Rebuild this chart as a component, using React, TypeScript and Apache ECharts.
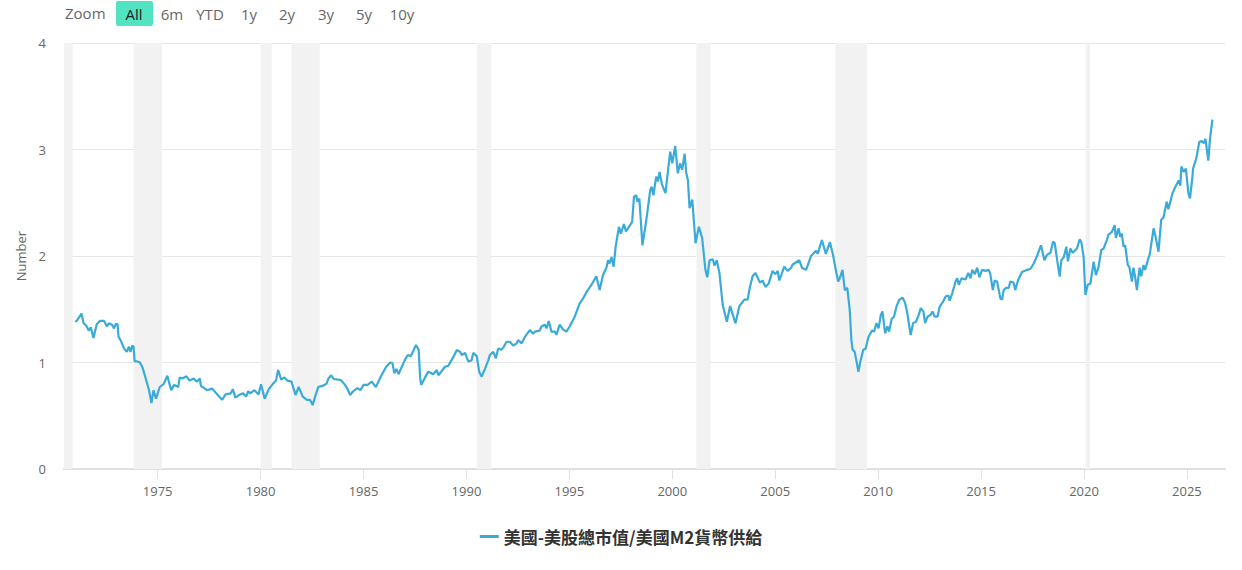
import React, { useEffect, useRef } from "react";
import * as echarts from "echarts";

// Decimal year, ratio (US stock market cap / US M2)
const years: number[] = [
  1971.0, 1971.1, 1971.3, 1971.4, 1971.55, 1971.65, 1971.75, 1971.88, 1972.04, 1972.19,
  1972.4, 1972.53, 1972.65, 1972.8, 1972.88, 1972.96, 1973.05, 1973.1, 1973.2, 1973.37,
  1973.5, 1973.6, 1973.68, 1973.77, 1973.83, 1973.88, 1974.0, 1974.14, 1974.27, 1974.42,
  1974.58, 1974.7, 1974.8, 1974.92, 1975.1, 1975.3, 1975.47, 1975.6, 1975.66, 1975.8,
  1976.0, 1976.07, 1976.2, 1976.4, 1976.55, 1976.75, 1976.9, 1977.05, 1977.1, 1977.4,
  1977.65, 1977.85, 1978.13, 1978.3, 1978.55, 1978.65, 1978.78, 1979.0, 1979.15, 1979.3,
  1979.4, 1979.5, 1979.7, 1979.9, 1980.02, 1980.2, 1980.4, 1980.6, 1980.75, 1980.85,
  1981.0, 1981.15, 1981.3, 1981.5, 1981.7, 1981.85, 1982.05, 1982.25, 1982.4, 1982.53,
  1982.65, 1982.8, 1983.0, 1983.2, 1983.3, 1983.43, 1983.55, 1983.75, 1983.9, 1984.1,
  1984.2, 1984.35, 1984.5, 1984.7, 1984.85, 1985.0, 1985.2, 1985.4, 1985.6, 1985.85,
  1986.1, 1986.3, 1986.4, 1986.5, 1986.6, 1986.7, 1987.0, 1987.15, 1987.3, 1987.55,
  1987.68, 1987.75, 1987.8, 1987.99, 1988.15, 1988.39, 1988.56, 1988.64, 1988.8, 1988.96,
  1989.12, 1989.36, 1989.53, 1989.69, 1989.77, 1989.93, 1990.09, 1990.25, 1990.33, 1990.5,
  1990.62, 1990.74, 1990.9, 1991.06, 1991.14, 1991.3, 1991.43, 1991.54, 1991.71, 1991.82,
  1991.95, 1992.11, 1992.27, 1992.44, 1992.51, 1992.68, 1992.84, 1993.08, 1993.24, 1993.32,
  1993.56, 1993.65, 1993.81, 1993.89, 1994.0, 1994.13, 1994.29, 1994.37, 1994.53, 1994.69,
  1994.86, 1995.02, 1995.26, 1995.5, 1995.66, 1995.83, 1996.07, 1996.31, 1996.47, 1996.63,
  1996.8, 1996.88, 1996.95, 1997.05, 1997.15, 1997.25, 1997.41, 1997.5, 1997.65, 1997.75,
  1997.98, 1998.05, 1998.14, 1998.25, 1998.3, 1998.4, 1998.55, 1998.74, 1998.93, 1999.0,
  1999.08, 1999.22, 1999.3, 1999.38, 1999.5, 1999.67, 1999.78, 1999.9, 2000.0, 2000.14,
  2000.27, 2000.38, 2000.48, 2000.6, 2000.68, 2000.76, 2000.84, 2000.97, 2001.13, 2001.29,
  2001.45, 2001.61, 2001.7, 2001.81, 2001.97, 2002.05, 2002.16, 2002.29, 2002.45, 2002.65,
  2002.81, 2003.07, 2003.26, 2003.5, 2003.66, 2003.75, 2003.9, 2004.04, 2004.26, 2004.39,
  2004.52, 2004.68, 2004.87, 2005.0, 2005.12, 2005.2, 2005.44, 2005.6, 2005.77, 2005.85,
  2006.17, 2006.3, 2006.5, 2006.74, 2006.98, 2007.06, 2007.27, 2007.46, 2007.66, 2007.82,
  2007.94, 2008.06, 2008.15, 2008.27, 2008.38, 2008.5, 2008.62, 2008.7, 2008.76, 2008.86,
  2008.94, 2009.04, 2009.15, 2009.28, 2009.39, 2009.53, 2009.7, 2009.8, 2009.92, 2010.02,
  2010.13, 2010.21, 2010.34, 2010.45, 2010.53, 2010.66, 2010.77, 2010.89, 2011.02, 2011.18,
  2011.31, 2011.42, 2011.58, 2011.7, 2011.83, 2011.96, 2012.07, 2012.2, 2012.28, 2012.4,
  2012.56, 2012.64, 2012.75, 2012.88, 2012.99, 2013.15, 2013.28, 2013.41, 2013.47, 2013.6,
  2013.76, 2013.84, 2013.92, 2014.05, 2014.25, 2014.38, 2014.49, 2014.57, 2014.7, 2014.81,
  2014.92, 2015.05, 2015.21, 2015.37, 2015.45, 2015.57, 2015.66, 2015.78, 2015.94, 2016.02,
  2016.1, 2016.21, 2016.34, 2016.42, 2016.58, 2016.66, 2016.8, 2016.99, 2017.24, 2017.4,
  2017.56, 2017.72, 2017.91, 2018.08, 2018.2, 2018.37, 2018.5, 2018.58, 2018.69, 2018.82,
  2018.9, 2019.02, 2019.14, 2019.22, 2019.34, 2019.45, 2019.55, 2019.66, 2019.79, 2019.87,
  2019.98, 2020.07, 2020.18, 2020.31, 2020.47, 2020.58, 2020.71, 2020.84, 2020.95, 2021.11,
  2021.19, 2021.36, 2021.49, 2021.55, 2021.68, 2021.76, 2021.84, 2021.92, 2022.0, 2022.13,
  2022.2, 2022.33, 2022.4, 2022.48, 2022.57, 2022.7, 2022.78, 2022.89, 2022.97, 2023.1,
  2023.2, 2023.38, 2023.49, 2023.62, 2023.75, 2023.86, 2024.02, 2024.1, 2024.3, 2024.44,
  2024.6, 2024.68, 2024.73, 2024.84, 2024.95, 2025.07, 2025.15, 2025.26, 2025.3, 2025.46,
  2025.6, 2025.72, 2025.83, 2025.9, 2026.04, 2026.12, 2026.24,
];

const ratio: number[] = [
  1.38, 1.4, 1.46, 1.37, 1.34, 1.3, 1.33, 1.23, 1.36, 1.39,
  1.39, 1.34, 1.37, 1.35, 1.32, 1.36, 1.36, 1.24, 1.21, 1.13,
  1.1, 1.15, 1.1, 1.16, 1.15, 1.01, 1.01, 1.0, 0.95, 0.85,
  0.74, 0.62, 0.74, 0.66, 0.77, 0.8, 0.875, 0.78, 0.74, 0.79,
  0.77, 0.86, 0.85, 0.87, 0.83, 0.85, 0.82, 0.85, 0.78, 0.74,
  0.755, 0.71, 0.65, 0.7, 0.71, 0.75, 0.67, 0.7, 0.71, 0.68,
  0.73, 0.71, 0.74, 0.7, 0.795, 0.66, 0.75, 0.8, 0.83, 0.93,
  0.84, 0.86, 0.83, 0.82, 0.695, 0.77, 0.68, 0.65, 0.65, 0.6,
  0.68, 0.77, 0.78, 0.8, 0.85, 0.88, 0.845, 0.84, 0.835, 0.79,
  0.76, 0.695, 0.73, 0.76, 0.74, 0.79, 0.79, 0.82, 0.77, 0.87,
  0.96, 1.0, 0.995, 0.9, 0.94, 0.89, 1.02, 1.07, 1.06, 1.165,
  1.12, 0.86, 0.79, 0.86, 0.914, 0.89, 0.93, 0.88, 0.92, 0.96,
  0.97, 1.05, 1.117, 1.1, 1.07, 1.09, 1.01, 1.02, 1.09, 1.06,
  0.914, 0.867, 0.94, 1.02, 1.07, 1.1, 1.04, 1.13, 1.12, 1.15,
  1.195, 1.195, 1.16, 1.18, 1.21, 1.18, 1.24, 1.305, 1.27, 1.29,
  1.3, 1.34, 1.355, 1.32, 1.39, 1.29, 1.29, 1.26, 1.355, 1.31,
  1.29, 1.34, 1.43, 1.556, 1.6, 1.66, 1.728, 1.81, 1.68, 1.82,
  1.89, 1.96, 1.93, 1.99, 1.9, 2.09, 2.275, 2.21, 2.3, 2.23,
  2.3, 2.32, 2.557, 2.57, 2.51, 2.54, 2.1, 2.34, 2.62, 2.65,
  2.57, 2.745, 2.7, 2.79, 2.67, 2.59, 2.78, 2.98, 2.87, 3.033,
  2.776, 2.87, 2.81, 2.96, 2.78, 2.71, 2.45, 2.53, 2.12, 2.275,
  2.17, 1.87, 1.8, 1.96, 1.97, 1.91, 1.96, 1.84, 1.54, 1.383,
  1.53, 1.368, 1.53, 1.59, 1.59, 1.69, 1.81, 1.84, 1.75, 1.77,
  1.71, 1.74, 1.86, 1.83, 1.86, 1.77, 1.9, 1.86, 1.89, 1.92,
  1.96, 1.89, 1.87, 2.0, 2.05, 2.02, 2.15, 2.02, 2.13, 2.0,
  1.87, 1.76, 1.8, 1.87, 1.68, 1.7, 1.493, 1.21, 1.12, 1.1,
  1.02, 0.914, 1.02, 1.12, 1.13, 1.24, 1.3, 1.29, 1.37, 1.32,
  1.446, 1.48, 1.274, 1.34, 1.29, 1.41, 1.43, 1.524, 1.587, 1.61,
  1.56, 1.46, 1.258, 1.37, 1.38, 1.44, 1.51, 1.48, 1.37, 1.43,
  1.45, 1.48, 1.43, 1.43, 1.524, 1.57, 1.62, 1.63, 1.58, 1.65,
  1.76, 1.79, 1.73, 1.79, 1.78, 1.84, 1.79, 1.87, 1.83, 1.89,
  1.8, 1.87, 1.86, 1.87, 1.83, 1.68, 1.77, 1.76, 1.6, 1.59,
  1.68, 1.7, 1.7, 1.76, 1.75, 1.68, 1.775, 1.85, 1.87, 1.88,
  1.93, 2.0, 2.1, 1.96, 2.01, 2.03, 2.135, 2.12, 1.97, 1.806,
  1.96, 1.99, 2.087, 1.95, 2.07, 2.03, 2.05, 2.07, 2.157, 2.13,
  1.993, 1.634, 1.73, 1.74, 1.947, 1.82, 1.9, 2.056, 2.07, 2.15,
  2.2, 2.228, 2.29, 2.17, 2.26, 2.18, 2.21, 2.087, 2.1, 1.915,
  1.9, 1.76, 1.89, 1.81, 1.68, 1.89, 1.81, 1.915, 1.87, 1.96,
  2.02, 2.26, 2.17, 2.04, 2.34, 2.36, 2.51, 2.44, 2.59, 2.65,
  2.71, 2.66, 2.84, 2.79, 2.82, 2.59, 2.54, 2.73, 2.82, 2.92,
  3.07, 3.08, 3.06, 3.1, 2.895, 3.1, 3.28,
];

// US recessions (start, end) in decimal years
const recessionStarts: number[] = [1970.45, 1973.83, 1980.0, 1981.5, 1990.5, 2001.17, 2007.92, 2020.08];
const recessionEnds: number[] = [1970.87, 1975.21, 1980.54, 1982.87, 1991.21, 2001.87, 2009.46, 2020.29];

const xTickYears: number[] = [1975, 1980, 1985, 1990, 1995, 2000, 2005, 2010, 2015, 2020, 2025];
const rangeButtons: string[] = ["All", "6m", "YTD", "1y", "2y", "3y", "5y", "10y"];
const seriesName = "美國-美股總市值/美國M2貨幣供給";

const FONT = "'Open Sans', 'Noto Sans CJK TC', sans-serif";

export default function App() {
  const ref = useRef<HTMLDivElement>(null);

  useEffect(() => {
    if (!ref.current) return;
    const chart = echarts.init(ref.current, undefined, { renderer: "svg" });

    const data = years.map((y, i) => [y, ratio[i]]);
    const bands = recessionStarts.map((s, i) => [{ xAxis: s }, { xAxis: recessionEnds[i] }]);

    const btnCenters = [134, 172, 210, 249, 287, 326, 364, 402];
    const graphics: any[] = [
      {
        type: "text",
        left: 65,
        top: 5,
        style: { text: "Zoom", fill: "#666666", font: `15px ${FONT}` },
      },
      {
        type: "rect",
        shape: { x: 116, y: 1, width: 37, height: 25, r: 2 },
        style: { fill: "#52e3c2" },
      },
    ];
    rangeButtons.forEach((b, i) => {
      graphics.push({
        type: "text",
        x: btnCenters[i],
        y: 14,
        style: {
          text: b,
          fill: i === 0 ? "#222222" : "#666666",
          font: `15px ${FONT}`,
          align: "center",
          verticalAlign: "middle",
        },
      });
    });

    chart.setOption({
      animation: false,
      grid: { left: 64, right: 17, top: 43, bottom: 101, containLabel: false },
      graphic: graphics,
      legend: {
        bottom: 20,
        left: "center",
        icon: "rect",
        itemWidth: 19,
        itemHeight: 3,
        itemGap: 10,
        textStyle: {
          fontSize: 17,
          fontWeight: "bold",
          color: "#333333",
          fontFamily: "'Noto Sans CJK TC', 'Open Sans', sans-serif",
        },
        data: [seriesName],
      },
      xAxis: {
        type: "value",
        min: 1970.45,
        max: 2026.85,
        splitLine: { show: false },
        axisLine: { show: true, lineStyle: { color: "#e0e0e0", width: 2 } },
        axisTick: { show: true, length: 10, lineStyle: { color: "#e0e0e0", width: 1 }, customValues: xTickYears },
        axisLabel: {
          color: "#666666",
          fontSize: 13,
          fontFamily: FONT,
          margin: 15,
          customValues: xTickYears,
          formatter: (v: number) => String(Math.round(v)),
        },
      },
      yAxis: {
        type: "value",
        min: 0,
        max: 4,
        interval: 1,
        name: "Number",
        nameLocation: "middle",
        nameRotate: 90,
        nameGap: 36,
        nameTextStyle: { color: "#666666", fontSize: 13, fontFamily: FONT },
        axisLine: { show: false },
        axisTick: { show: false },
        axisLabel: { color: "#666666", fontSize: 13, fontFamily: FONT, margin: 18 },
        splitLine: { lineStyle: { color: "#e6e6e6", width: 1 } },
      },
      series: [
        {
          name: seriesName,
          type: "line",
          data,
          showSymbol: false,
          symbol: "none",
          lineStyle: { color: "#3aabd9", width: 2.2 },
          itemStyle: { color: "#3aabd9" },
          markArea: {
            silent: true,
            itemStyle: { color: "#f2f2f2" },
            data: bands,
          },
        },
      ],
    });

    return () => chart.dispose();
  }, []);

  return (
    <div
      ref={ref}
      style={{ position: "fixed", left: 0, top: 0, width: 1242, height: 570, background: "#ffffff" }}
    />
  );
}
